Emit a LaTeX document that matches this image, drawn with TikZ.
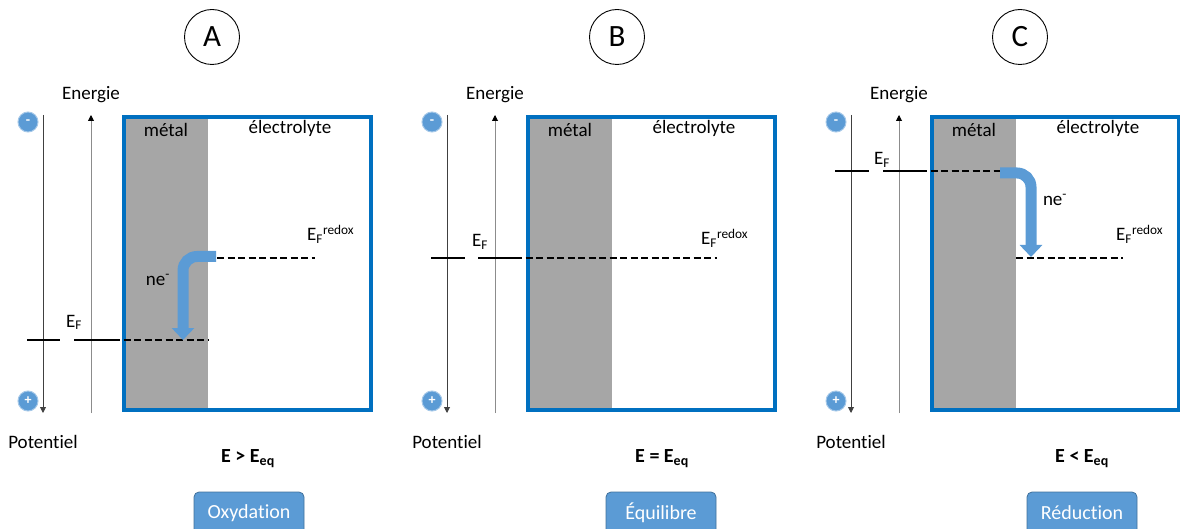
\documentclass[tikz,border=0pt]{standalone}
\usepackage{fontspec}
\setmainfont{Carlito}[Ligatures=NoCommon]
\usetikzlibrary{arrows.meta}
\definecolor{accent}{HTML}{5B9BD5}
\definecolor{accentdk}{HTML}{41719C}
\definecolor{frameblue}{HTML}{0070C0}
\definecolor{metalgray}{HTML}{A6A6A6}
\begin{document}
\begin{tikzpicture}[x=1pt,y=-1pt,
  lbl/.style={font=\fontsize{19}{21}\selectfont, inner sep=0pt},
  eqlbl/.style={font=\fontsize{20}{22}\selectfont\bfseries, inner sep=0pt},
  letter/.style={circle, draw, line width=0.9pt, minimum size=55pt, inner sep=0pt, font=\fontsize{31}{33}\selectfont},
  sign/.style={circle, fill=accent, draw=accent!55!white, line width=1pt, minimum size=20pt, inner sep=0pt, text=white, font=\fontsize{14}{14}\selectfont\bfseries},
  tag/.style={rounded corners=5pt, fill=accent, draw=accentdk, line width=0.8pt, minimum width=110pt, minimum height=42pt, text=white, font=\fontsize{20}{22}\selectfont},
  potaxis/.style={line width=0.9pt, black!75, -{Triangle[length=6pt,width=6pt]}},
  enaxis/.style={line width=0.9pt, black!45, -{Triangle[length=6pt,width=6pt,color=black]}},
  framebox/.style={draw=frameblue, line width=4pt},
  lvl/.style={line width=2.6pt},
  dlvl/.style={line width=2.6pt, dash pattern=on 7pt off 3.5pt},
  eflow/.style={line width=11pt, accent, rounded corners=14pt, -{Triangle[length=12pt,width=22pt]}}
]
\useasboundingbox (0,0) rectangle (1180,529);

% panel letters
\node[letter] (letA) at (212,37) {A};
\node[letter] (letB) at (617,37) {B};
\node[letter] (letC) at (1020,37) {C};

% common parts of each panel
\foreach \dx/\p in {0/A,404/B,808/C}{
  \fill[metalgray] (124+\dx,117) rectangle (208+\dx,410);
  \draw[framebox] (124+\dx,117) rectangle (371+\dx,410);
  \node[lbl] (en\p) at (91+\dx,95) {Energie};
  \node[lbl] (pot\p) at (43+\dx,442) {Potentiel};
  \node[lbl] (metal\p) at (166+\dx,130) {métal};
  \node[lbl] (elec\p) at (290+\dx,128) {électrolyte};
  \coordinate (pt\p) at (43+\dx,115);
  \coordinate (pb\p) at (43+\dx,413);
  \coordinate (eb\p) at (91+\dx,413);
  \coordinate (et\p) at (91+\dx,115);
  \draw[potaxis] (pt\p) -- (pb\p);
  \draw[enaxis] (eb\p) -- (et\p);
  \node[sign] (minus\p) at (28+\dx,122) {-};
  \node[sign] (plus\p) at (28+\dx,401) {+};
}

% ---------- Panel A ----------
\coordinate (a1) at (27,340);
\coordinate (a2) at (60,340);
\coordinate (a3) at (74,340);
\coordinate (a4) at (113,340);
\coordinate (a5) at (208,340);
\draw[lvl] (a1) -- (a2);
\draw[lvl] (a3) -- (a4);
\draw[dlvl] (a4) -- (a5);
\coordinate (ar1) at (217,258);
\coordinate (ar2) at (315,258);
\draw[dlvl] (ar1) -- (ar2);
\node[lbl, anchor=base west] (efA) at (66,327) {E\textsubscript{F}};
\node[lbl, anchor=base west] (redA) at (307,241) {E\textsubscript{F}\textsuperscript{redox}};
\coordinate (aS) at (216,256.5);
\coordinate (aC) at (183,256.5);
\coordinate (aT) at (183,340);
\draw[eflow] (aS) -- (aC) -- (aT);
\node[lbl] (neA) at (158,280) {ne\textsuperscript{-}};
\node[eqlbl] (eqA) at (248,459) {E > E\textsubscript{eq}};
\node[tag] (tagA) at (249,513) {Oxydation};

% ---------- Panel B ----------
\coordinate (b1) at (431,258);
\coordinate (b2) at (465,258);
\coordinate (b3) at (478,258);
\coordinate (b4) at (515,258);
\coordinate (b5) at (717,258);
\draw[lvl] (b1) -- (b2);
\draw[lvl] (b3) -- (b4);
\draw[dlvl] (b4) -- (b5);
\node[lbl, anchor=base west] (efB) at (472,247) {E\textsubscript{F}};
\node[lbl, anchor=base west] (redB) at (701,245) {E\textsubscript{F}\textsuperscript{redox}};
\node[eqlbl] (eqB) at (662,459) {E = E\textsubscript{eq}};
\node[tag] (tagB) at (661,513) {Équilibre};

% ---------- Panel C ----------
\coordinate (c1) at (835,171);
\coordinate (c2) at (869,171);
\coordinate (c3) at (883,171);
\coordinate (c4) at (920,171);
\coordinate (c5) at (1000,171);
\draw[lvl] (c1) -- (c2);
\draw[lvl] (c3) -- (c4);
\draw[dlvl] (c4) -- (c5);
\coordinate (cr1) at (1016,258);
\coordinate (cr2) at (1123,258);
\draw[dlvl] (cr1) -- (cr2);
\node[lbl, anchor=base west] (efC) at (874,165) {E\textsubscript{F}};
\node[lbl, anchor=base west] (redC) at (1116,241) {E\textsubscript{F}\textsuperscript{redox}};
\coordinate (cS) at (1000,173);
\coordinate (cC) at (1031,173);
\coordinate (cT) at (1031,257);
\draw[eflow] (cS) -- (cC) -- (cT);
\node[lbl] (neC) at (1055,200) {ne\textsuperscript{-}};
\node[eqlbl] (eqC) at (1082,459) {E < E\textsubscript{eq}};
\node[tag] (tagC) at (1082,513) {Réduction};
\end{tikzpicture}
\end{document}
